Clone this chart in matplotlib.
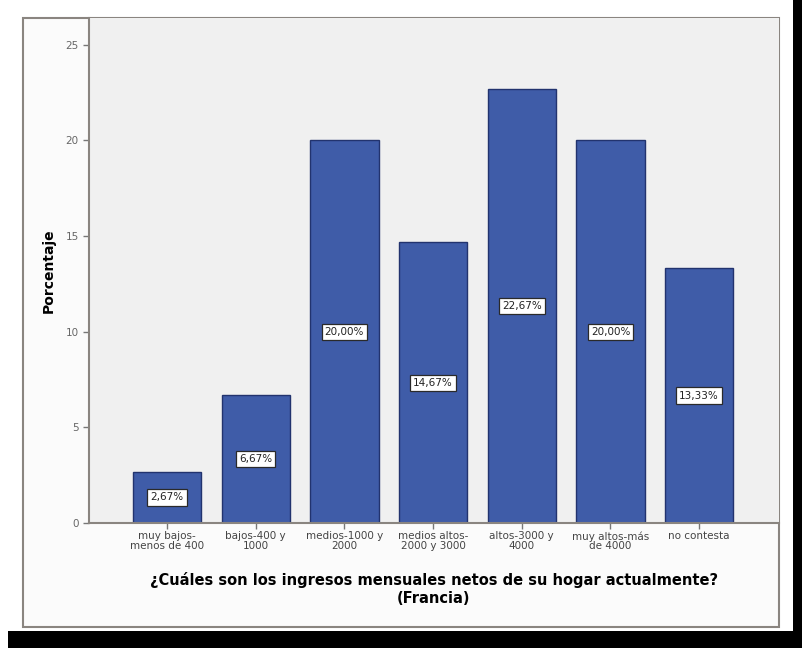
import matplotlib.pyplot as plt
from matplotlib.patches import Rectangle

categorias = ["muy bajos-\nmenos de 400", "bajos-400 y\n1000", "medios-1000 y\n2000",
              "medios altos-\n2000 y 3000", "altos-3000 y\n4000", "muy altos-más\nde 4000",
              "no contesta"]
porcentajes = [2.67, 6.67, 20.00, 14.67, 22.67, 20.00, 13.33]
yticks = [0, 5, 10, 15, 20, 25]

fig = plt.figure(figsize=(8.03, 6.48), dpi=100)
fig.patch.set_facecolor("white")

# marco gris alrededor del grafico
fig.patches.append(Rectangle((23 / 803, 1 - 627 / 648), 756 / 803, 609 / 648,
                             transform=fig.transFigure, fill=True, facecolor="#fbfbfb",
                             edgecolor="#8a8580", linewidth=1.5, zorder=-2))
# bordes negros (sombra)
fig.patches.append(Rectangle((793 / 803, 0), 10 / 803, 1, transform=fig.transFigure,
                             facecolor="black", edgecolor="none", zorder=-2))
fig.patches.append(Rectangle((8 / 803, 0), 795 / 803, 17 / 648, transform=fig.transFigure,
                             facecolor="black", edgecolor="none", zorder=-2))

ax = fig.add_axes([89 / 803, 1 - 523 / 648, 690 / 803, 505 / 648])
ax.set_zorder(2)
ax.set_facecolor("#f0f0f0")
x = list(range(len(categorias)))
ax.bar(x, porcentajes, width=0.77, color="#3f5ca8", edgecolor="#22336e", linewidth=1.0, zorder=2)

for xi, v in zip(x, porcentajes):
    ax.text(xi, v / 2, f"{v:.2f}%".replace(".", ","), ha="center", va="center",
            fontsize=7.5, color="#222222", zorder=3,
            bbox=dict(boxstyle="square,pad=0.3", facecolor="white", edgecolor="#2a2a2a",
                      linewidth=0.9))

ax.set_xlim(-0.88, 6.9)
ax.set_ylim(0, 26.4)
ax.set_yticks(yticks)
ax.set_xticks(x)
ax.set_xticklabels(categorias, fontsize=7.5, color="#444444", linespacing=0.9)
ax.tick_params(axis="y", labelsize=7.5, labelcolor="#666666", color="#777777", length=4, width=1)
ax.tick_params(axis="x", color="#777777", length=4, width=1, pad=2)

for s in ["top", "right"]:
    ax.spines[s].set_visible(False)
for s in ["left", "bottom"]:
    ax.spines[s].set_color("#8a8580")
    ax.spines[s].set_linewidth(1.5)

ax.set_ylabel("Porcentaje", fontsize=10, fontweight="bold", labelpad=7)
ax.set_xlabel("¿Cuáles son los ingresos mensuales netos de su hogar actualmente?\n(Francia)",
              fontsize=10.5, fontweight="bold", labelpad=15, linespacing=1.3)

fig.savefig("out.png", dpi=100)
